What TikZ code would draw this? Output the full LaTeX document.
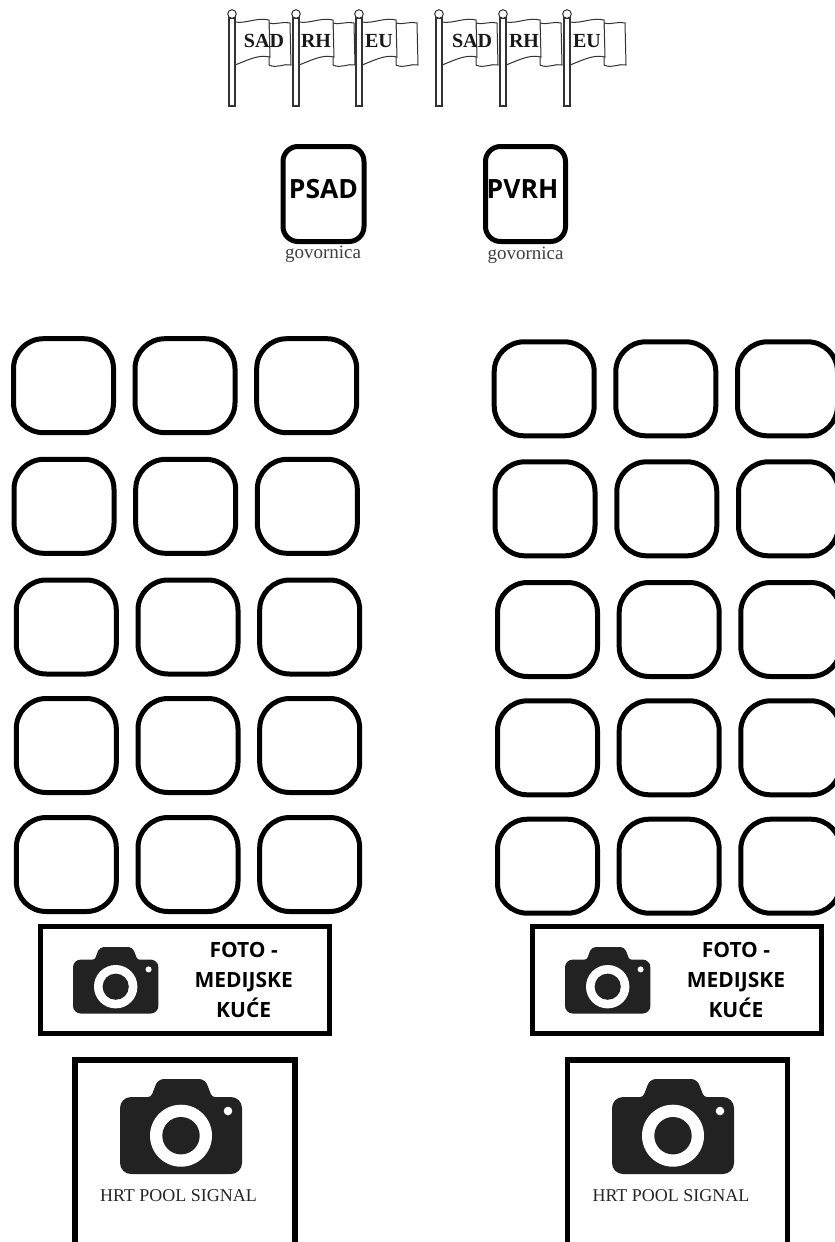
\documentclass[tikz,border=0pt]{standalone}
\usepackage{fontspec}
\setmainfont{Liberation Serif}
\newfontfamily\osans{Open Sans}[Scale=1]
\tikzset{
  x=1pt,y=-1pt,
  seat/.style={draw=black,line width=5pt,rounded corners=30pt,fill=white,inner sep=0pt,minimum width=100pt,minimum height=94pt},
  podium/.style={draw=black,line width=5pt,rounded corners=15pt,fill=white,inner sep=0pt},
  framebox/.style={draw=black,line width=5.5pt,fill=white},
  flagline/.style={draw=black!80,line width=1pt,fill=white},
  flaglabel/.style={font=\fontsize{20}{22}\selectfont\bfseries,text=black!90,inner sep=0pt,anchor=base},
  podlabel/.style={font=\osans\fontsize{26.5}{28}\selectfont\bfseries,inner sep=0pt},
  smalllabel/.style={font=\fontsize{19}{21}\selectfont,text=black!75,inner sep=0pt},
  medialabel/.style={font=\osans\fontsize{21}{30}\selectfont\bfseries,align=center,inner sep=0pt},
  poollabel/.style={font=\fontsize{18}{20}\selectfont,text=black!85,inner sep=0pt},
}
\definecolor{cam}{HTML}{222222}
% #1 pole x
\newcommand{\flagpic}[1]{%
  \begin{scope}[shift={(#1,0)}]
    \draw[flagline] (37,23) .. controls (45,25) and (51,21) .. (58,23) -- (59,65) .. controls (52,63) and (45,69) .. (37,65) -- cycle;
    \draw[flagline] (3,22) .. controls (14,24) and (25,17) .. (37,20) -- (38,57) .. controls (26,54) and (14,61) .. (3,65) -- cycle;
    \draw[flagline,line width=1.2pt] (-3,18) rectangle (3,106);
    \draw[flagline] (0,14) circle (4.3);
  \end{scope}}
% #1 left, #2 top, #3 scale (1 = 122 px wide)
\newcommand{\campic}[3]{%
  \begin{scope}[shift={(#1,#2)},scale=#3]
    \fill[cam,rounded corners=#3*11pt] (0,50) -- (0,18) [rounded corners=#3*3pt] -- (31,18) [rounded corners=#3*6pt] -- (38,0) -- (85,0) [rounded corners=#3*3pt] -- (92,18) [rounded corners=#3*11pt] -- (122,18) -- (122,95) -- (0,95) -- cycle;
    \fill[white] (61,56.7) circle (31);
    \fill[cam] (61,56.7) circle (18.7);
    \fill[white] (108,32) circle (4.3);
  \end{scope}}
\begin{document}
\begin{tikzpicture}
\useasboundingbox (0,0) rectangle (835,1242);
\clip (0,0) rectangle (835,1242);
\fill[white] (0,0) rectangle (835,1242);
% flags
\foreach \p in {232,296,359,439,503,567}{\flagpic{\p}}
\node[flaglabel] (f1) at (264,47.5) {SAD};
\node[flaglabel] (f2) at (316,47.5) {RH};
\node[flaglabel] (f3) at (379,47.5) {EU};
\node[flaglabel] (f4) at (472,47.5) {SAD};
\node[flaglabel] (f5) at (524,47.5) {RH};
\node[flaglabel] (f6) at (587,47.5) {EU};
% podiums
\node[podium,minimum width=81pt,minimum height=95pt] (psad) at (323.5,194) {};
\node[podlabel] (psadt) at (323.5,189.5) {PSAD};
\node[smalllabel] (g1) at (323,254) {govornica};
\node[podium,minimum width=80pt,minimum height=95pt] (pvrh) at (525.5,194) {};
\node[podlabel] (pvrht) at (522.5,189.5) {PVRH};
\node[smalllabel] (g2) at (525.5,255) {govornica};
% seats
\foreach \x/\y [count=\i] in {
  63.5/385.7, 185/385.7, 306.7/385.7,
  64/506.3, 185.7/506.3, 307.3/506.3,
  66.3/627, 188/627, 309.7/627,
  66.3/745.5, 188/745.5, 309.7/745.5,
  66.3/864.5, 188/864.5, 309.7/864.5,
  544.2/388.8, 665.8/388.8, 787.5/388.8,
  545/508.8, 666.8/508.8, 788.5/508.8,
  547.5/629.5, 669.2/629.5, 790.8/629.5,
  547.5/747.8, 669.2/747.8, 790.8/747.8,
  547.5/866.2, 669.2/866.2, 790.8/866.2}{
  \node[seat] (s\i) at (\x,\y) {};
}
% foto boxes
\node[framebox,minimum width=289pt,minimum height=107pt] (foto1) at (185,980) {};
\node[medialabel] (foto1t) at (243.7,980) {FOTO -\\MEDIJSKE\\KUĆE};
\campic{73}{947}{0.70}
\node[framebox,minimum width=289pt,minimum height=107pt] (foto2) at (677,980) {};
\node[medialabel] (foto2t) at (736,980) {FOTO -\\MEDIJSKE\\KUĆE};
\campic{565}{947}{0.70}
% pool boxes
\node[framebox,minimum width=220pt,minimum height=200pt,anchor=north] (pool1) at (185,1057) {};
\campic{120}{1079}{1}
\node[poollabel] (pool1t) at (178.5,1196) {HRT POOL SIGNAL};
\node[framebox,minimum width=220pt,minimum height=200pt,anchor=north] (pool2) at (677.5,1057) {};
\campic{612}{1079}{1}
\node[poollabel] (pool2t) at (671,1196) {HRT POOL SIGNAL};
\end{tikzpicture}
\end{document}
